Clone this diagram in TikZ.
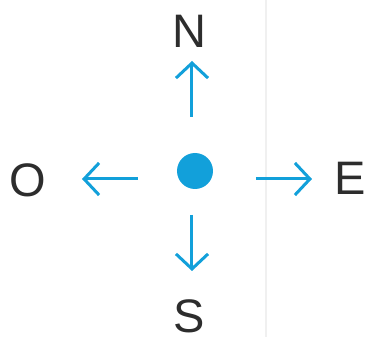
\documentclass[tikz,border=0pt]{standalone}
\usepackage{fontspec}
\setmainfont{Liberation Sans}
\usetikzlibrary{arrows.meta}
\definecolor{bleu}{RGB}{18,160,218}
\definecolor{encre}{RGB}{45,45,45}

\begin{document}
\begin{tikzpicture}[
  x=1pt,y=-1pt,
  point/.style={circle,fill=bleu,minimum size=36pt,inner sep=0pt},
  lettre/.style={inner sep=0pt,text=encre,font=\fontsize{47}{47}\selectfont},
  fleche/.style={-{Straight Barb[length=15pt,width=32pt]},draw=bleu,line width=3pt}
]
\useasboundingbox (0,0) rectangle (368,337);
\draw[black!6,line width=2pt] (266,0) -- (266,337);
\node[point] (c) at (195,171) {};
\node[lettre] (N) at (189,31) {N};
\node[lettre] (S) at (189,316) {S};
\node[lettre] (O) at (28,180) {O};
\node[lettre] (E) at (350,178) {E};
\coordinate (n0) at (192,117);
\coordinate (n1) at (192,61);
\coordinate (s0) at (192,215);
\coordinate (s1) at (192,271);
\coordinate (o0) at (138,179);
\coordinate (o1) at (82,179);
\coordinate (e0) at (256,179);
\coordinate (e1) at (312,179);
\draw[fleche] (n0) -- (n1);
\draw[fleche] (s0) -- (s1);
\draw[fleche] (o0) -- (o1);
\draw[fleche] (e0) -- (e1);
\end{tikzpicture}
\end{document}
